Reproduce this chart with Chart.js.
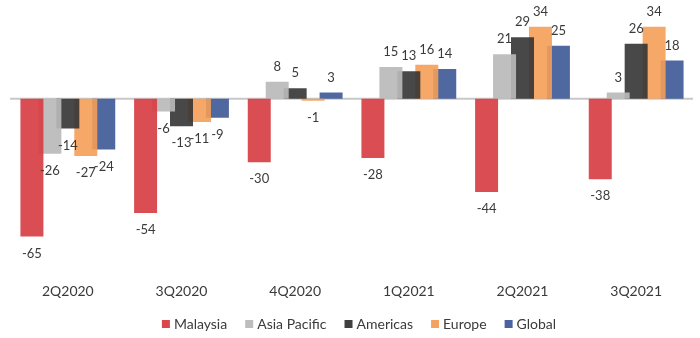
<!DOCTYPE html>
<html>
<head>
<meta charset="utf-8">
<script src="https://cdn.jsdelivr.net/npm/chart.js@4/dist/chart.umd.min.js"></script>
<style>
  html, body { margin: 0; padding: 0; background: #ffffff; }
  #wrap { width: 700px; height: 338px; position: relative; }
</style>
</head>
<body>
<div id="wrap"><canvas id="chart"></canvas></div>
<script>
// Quarterly change by region (%)
const quarters = ['2Q2020', '3Q2020', '4Q2020', '1Q2021', '2Q2021', '3Q2021'];
const malaysia    = [-65, -54, -30, -28, -44, -38];
const asiaPacific = [-26, -6, 8, 15, 21, 3];
const americas    = [-14, -13, 5, 13, 29, 26];
const europe      = [-27, -11, -1, 16, 34, 34];
const global      = [-24, -9, 3, 14, 25, 18];

const seriesNames = ['Malaysia', 'Asia Pacific', 'Americas', 'Europe', 'Global'];
const seriesData = [malaysia, asiaPacific, americas, europe, global];
const seriesColors = [
  'rgba(214, 62, 68, 0.92)',
  'rgba(186, 186, 186, 0.92)',
  'rgba(52, 52, 52, 0.9)',
  'rgba(244, 158, 88, 0.9)',
  'rgba(60, 88, 150, 0.9)'
];
const swatchColors = ['#d9464b', '#bdbdbd', '#404040', '#f4a262', '#4a63a0'];

const FONT = 'Lato, "Liberation Sans", sans-serif';
const TEXT = '#3a3a3a';

// Zero baseline drawn across the plot area
const zeroLine = {
  id: 'zeroLine',
  beforeDatasetsDraw(chart) {
    const { ctx, chartArea, scales } = chart;
    const y = scales.y.getPixelForValue(0);
    ctx.save();
    ctx.strokeStyle = '#c8c8c8';
    ctx.lineWidth = 2;
    ctx.beginPath();
    ctx.moveTo(chartArea.left - 1, y);
    ctx.lineTo(chartArea.right, y);
    ctx.stroke();
    ctx.restore();
  }
};

// Value labels just outside the end of each bar
const valueLabels = {
  id: 'valueLabels',
  afterDatasetsDraw(chart) {
    const { ctx } = chart;
    ctx.save();
    ctx.font = '13px ' + FONT;
    ctx.fillStyle = TEXT;
    ctx.textAlign = 'center';
    ctx.textBaseline = 'middle';
    chart.data.datasets.forEach((ds, di) => {
      const meta = chart.getDatasetMeta(di);
      meta.data.forEach((bar, i) => {
        const v = ds.data[i];
        const y = v >= 0 ? bar.y - 15 : bar.y + 17;
        ctx.fillText(String(v), bar.x, y);
      });
    });
    ctx.restore();
  }
};

// Series key along the bottom: small square swatch, then the name
const bottomKey = {
  id: 'bottomKey',
  afterDraw(chart) {
    const { ctx, width, height } = chart;
    const box = 8, gapText = 4, gapItem = 18;
    ctx.save();
    ctx.font = '14px ' + FONT;
    ctx.textBaseline = 'middle';
    ctx.textAlign = 'left';
    const items = chart.data.datasets.map((ds, k) => ({
      name: ds.label,
      color: swatchColors[k],
      w: box + gapText + ctx.measureText(ds.label).width
    }));
    const total = items.reduce((s, it) => s + it.w, 0) + gapItem * (items.length - 1);
    let x = width / 2 + 9 - total / 2;
    const y = height - 14;
    items.forEach(it => {
      ctx.fillStyle = it.color;
      ctx.fillRect(x, y - box / 2, box, box);
      ctx.fillStyle = TEXT;
      ctx.fillText(it.name, x + box + gapText, y);
      x += it.w + gapItem;
    });
    ctx.restore();
  }
};

new Chart(document.getElementById('chart'), {
  type: 'bar',
  data: {
    labels: quarters,
    datasets: seriesNames.map((name, k) => ({
      label: name,
      data: seriesData[k],
      backgroundColor: seriesColors[k],
      borderWidth: 0,
      categoryPercentage: 0.79,
      barPercentage: 1.28
    }))
  },
  options: {
    responsive: true,
    maintainAspectRatio: false,
    animation: false,
    layout: { padding: { left: 11, right: 7, top: 14, bottom: 31 } },
    plugins: {
      legend: { display: false },
      tooltip: { enabled: false }
    },
    scales: {
      x: {
        grid: { display: false },
        border: { display: false },
        ticks: { font: { family: FONT, size: 14 }, color: TEXT, padding: 7, maxRotation: 0 }
      },
      y: {
        display: false,
        min: -80,
        max: 40
      }
    }
  },
  plugins: [zeroLine, valueLabels, bottomKey]
});
</script>
</body>
</html>
